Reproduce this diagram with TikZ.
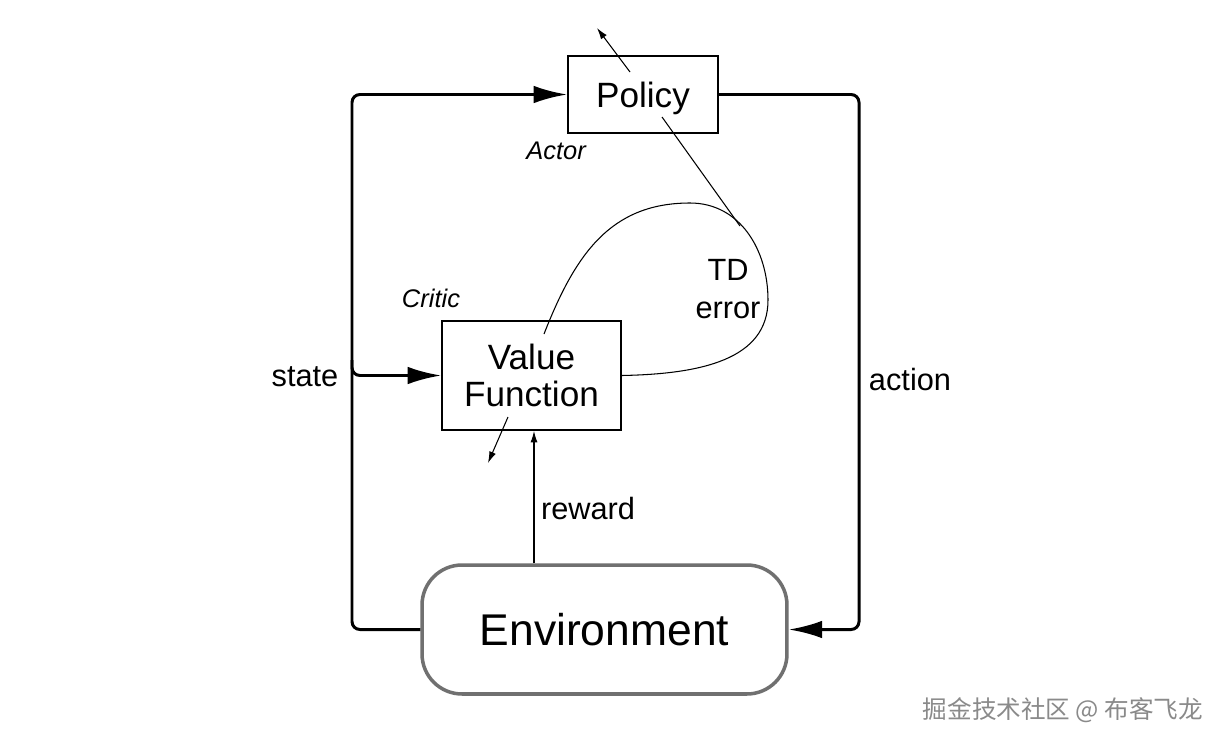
\documentclass[tikz,border=0pt]{standalone}
\usepackage{fontspec}
\setmainfont{Liberation Sans}
\newfontfamily\cjk{Noto Sans CJK SC}
\usetikzlibrary{arrows.meta}
\definecolor{envgray}{HTML}{707070}
\definecolor{wmgray}{HTML}{8A8A8A}
\begin{document}
\begin{tikzpicture}[x=0.02cm,y=-0.02cm,
  box/.style={draw,line width=1.1pt,inner sep=0pt},
  loopline/.style={line width=1.7pt,rounded corners=4.5pt},
  bigtip/.style={-{Latex[length=19pt,width=10pt]}},
  thinline/.style={line width=0.6pt},
  smalltip/.style={-{Latex[length=6.5pt,width=4pt]}},
  lbl/.style={font=\fontsize{17.5}{20}\selectfont},
  rolelbl/.style={font=\fontsize{14.5}{17}\selectfont\itshape}]
\useasboundingbox (0,0) rectangle (1228,744);
\fill[white] (0,0) rectangle (1228,744);

% nodes
\node[box,minimum width=3cm,minimum height=1.54cm,text height=14.5pt,text depth=0pt,font=\fontsize{20}{24}\selectfont] (pol) at (643,94.5) {Policy};
\node[box,minimum width=3.58cm,minimum height=2.18cm,align=center,font=\fontsize{20}{21.5}\selectfont] (vf) at (531.5,375.5) {Value\\Function};
\node[draw=envgray,line width=2pt,rounded corners=0.8cm,minimum width=7.3cm,minimum height=2.58cm,font=\fontsize{25.3}{30}\selectfont] (env) at (604.5,629.5) {Environment};

% labels
\node[rolelbl] (actor) at (556,151) {Actor};
\node[rolelbl] (critic) at (431,298) {Critic};
\node[align=center,font=\fontsize{17.5}{22}\selectfont] (td) at (728,289) {TD\\error};
\node[lbl] (state) at (305,377) {state};
\node[lbl] (action) at (910,380) {action};
\node[lbl] (reward) at (588,509) {reward};
\node[font=\cjk\fontsize{14}{17}\selectfont,text=wmgray] (wm) at (1063,710) {掘金技术社区 @ 布客飞龙};

% helper coordinates
\coordinate (L) at (352,0);
\coordinate (R) at (859,0);
\coordinate (sb) at (352,360);
\coordinate (pa) at (597,28);
\coordinate (va) at (488,463);
\coordinate (touch) at (740,226);

% main loop
\draw[loopline,bigtip] (env.west) -| (L |- pol.west) -- (pol.west);
\draw[loopline,bigtip] (pol.east) -| (R |- env.east) -- (env.east);
\draw[loopline,bigtip] (sb) |- (vf.west);

% reward
\draw[thinline,smalltip] (env.north -| 534,0) -- (vf.south -| 534,0);

% small gradient arrows
\draw[thinline,smalltip] ([shift={(-13,-22.5)}]pol.center) -- (pa);
\draw[thinline,smalltip] ([shift={(-23.5,41.5)}]vf.center) -- (va);

% TD error loop
\draw[thinline] ([shift={(12.5,-41.5)}]vf.center)
  .. controls (575,255) and (610,203) .. (690,203)
  .. controls (740,203) and (768,250) .. (768,300)
  .. controls (768,360) and (700,374) .. (vf.east);
\draw[thinline] ([shift={(19,22.5)}]pol.center) -- (touch);
\end{tikzpicture}
\end{document}
